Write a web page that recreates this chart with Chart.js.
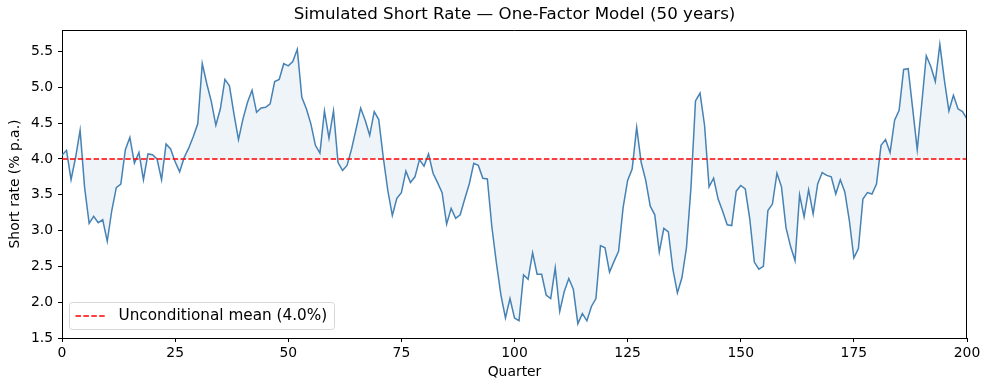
<!DOCTYPE html>
<html>
<head>
<meta charset="utf-8">
<title>Simulated Short Rate</title>
<script src="https://cdn.jsdelivr.net/npm/chart.js@4.4.1/dist/chart.umd.min.js"></script>
<style>
    html, body { margin: 0; padding: 0; background: #fff; }
    canvas { display: block; }
</style>
</head>
<body>
<canvas id="rateChart" width="990" height="390"></canvas>
<script>
// --- Data ---
const rates = [
    4.05, 4.12, 3.71, 4.02, 4.40, 3.60, 3.10, 3.20, 3.11, 3.15,
    2.85, 3.28, 3.60, 3.65, 4.13, 4.30, 3.94, 4.09, 3.71, 4.07,
    4.06, 4.00, 3.71, 4.21, 4.14, 3.96, 3.82, 4.02, 4.15, 4.31,
    4.49, 5.33, 5.05, 4.80, 4.47, 4.70, 5.11, 5.02, 4.63, 4.27,
    4.56, 4.79, 4.96, 4.65, 4.71, 4.72, 4.77, 5.08, 5.11, 5.33,
    5.30, 5.36, 5.53, 4.86, 4.70, 4.49, 4.19, 4.08, 4.67, 4.29,
    4.67, 3.95, 3.84, 3.91, 4.14, 4.42, 4.71, 4.54, 4.33, 4.66,
    4.55, 4.02, 3.56, 3.21, 3.45, 3.53, 3.83, 3.67, 3.75, 3.99,
    3.90, 4.07, 3.80, 3.67, 3.53, 3.09, 3.31, 3.17, 3.22, 3.44,
    3.65, 3.94, 3.91, 3.73, 3.72, 3.05, 2.55, 2.10, 1.78, 2.05,
    1.78, 1.74, 2.38, 2.32, 2.69, 2.39, 2.39, 2.10, 2.05, 2.48,
    1.87, 2.15, 2.33, 2.18, 1.70, 1.84, 1.74, 1.94, 2.05, 2.79,
    2.76, 2.42, 2.57, 2.71, 3.32, 3.70, 3.86, 4.44, 3.95, 3.70,
    3.34, 3.22, 2.70, 3.03, 2.98, 2.46, 2.13, 2.34, 2.76, 3.60,
    4.81, 4.92, 4.47, 3.61, 3.73, 3.44, 3.27, 3.08, 3.07, 3.55,
    3.63, 3.58, 3.16, 2.56, 2.46, 2.50, 3.28, 3.37, 3.80, 3.61,
    3.04, 2.78, 2.58, 3.50, 3.19, 3.57, 3.23, 3.65, 3.81, 3.77,
    3.75, 3.51, 3.71, 3.54, 3.14, 2.62, 2.75, 3.44, 3.53, 3.51,
    3.65, 4.19, 4.27, 4.09, 4.54, 4.68, 5.25, 5.26, 4.70, 4.13,
    4.77, 5.44, 5.29, 5.08, 5.60, 5.10, 4.67, 4.89, 4.70, 4.66,
    4.56
];
const quarters = rates.map((_, i) => i);
const meanRate = 4.0;
const xTicks = [0, 25, 50, 75, 100, 125, 150, 175, 200];
const yTicks = [1.5, 2.0, 2.5, 3.0, 3.5, 4.0, 4.5, 5.0, 5.5];
const legendLabel = 'Unconditional mean (4.0%)';

const FONT = 'DejaVu Sans';
const MEAN_DASH = [5.5, 2.4];

// center the title over the plot area instead of the whole canvas
const titleOverPlot = {
    id: 'titleOverPlot',
    afterLayout(chart) {
        const tb = chart.titleBlock;
        if (!tb) return;
        tb.left = chart.chartArea.left;
        tb.right = chart.chartArea.right;
        tb.width = tb.right - tb.left;
    }
};

// top + right spines (Chart.js only draws the axis borders)
const framePlugin = {
    id: 'frame',
    afterDatasetsDraw(chart) {
        const { ctx, chartArea: a } = chart;
        ctx.save();
        ctx.strokeStyle = '#000';
        ctx.lineWidth = 1;
        ctx.beginPath();
        ctx.moveTo(a.left, a.top + 0.5);
        ctx.lineTo(a.right - 0.5, a.top + 0.5);
        ctx.lineTo(a.right - 0.5, a.bottom);
        ctx.stroke();
        ctx.restore();
    }
};

// legend box inside the plot, lower left
const insideLegend = {
    id: 'insideLegend',
    afterDraw(chart) {
        const { ctx, chartArea: a } = chart;
        const x = a.left + 7.5, y = a.bottom - 35.5, w = 265, h = 27, r = 3;
        ctx.save();
        ctx.beginPath();
        ctx.roundRect(x, y, w, h, r);
        ctx.fillStyle = 'rgba(255,255,255,0.8)';
        ctx.fill();
        ctx.strokeStyle = '#d6d6d6';
        ctx.lineWidth = 1;
        ctx.stroke();

        const ly = y + h / 2;
        ctx.beginPath();
        ctx.setLineDash(MEAN_DASH);
        ctx.strokeStyle = 'red';
        ctx.lineWidth = 1.5;
        ctx.moveTo(x + 6, ly);
        ctx.lineTo(x + 36, ly);
        ctx.stroke();
        ctx.setLineDash([]);

        ctx.fillStyle = '#000';
        ctx.font = '15.28px "' + FONT + '"';
        ctx.textBaseline = 'middle';
        ctx.fillText(legendLabel, x + 49, ly + 0.5);
        ctx.restore();
    }
};

const ctx = document.getElementById('rateChart').getContext('2d');
new Chart(ctx, {
    type: 'line',
    data: {
        datasets: [
            {
                label: legendLabel,
                data: [{ x: xTicks[0], y: meanRate }, { x: xTicks[xTicks.length - 1], y: meanRate }],
                borderColor: 'red',
                borderWidth: 1.5,
                borderDash: MEAN_DASH,
                pointRadius: 0,
                fill: false
            },
            {
                label: 'Short rate',
                data: quarters.map((q, i) => ({ x: q, y: rates[i] })),
                borderColor: '#4682b4',
                borderWidth: 1.5,
                backgroundColor: 'rgba(70,130,180,0.09)',
                fill: { value: meanRate },
                pointRadius: 0,
                tension: 0
            }
        ]
    },
    options: {
        responsive: false,
        animation: false,
        devicePixelRatio: 1,
        layout: { padding: { left: 0, right: 23, top: 0, bottom: 0 } },
        plugins: {
            legend: { display: false },
            tooltip: { enabled: false },
            title: {
                display: true,
                text: 'Simulated Short Rate \u2014 One-Factor Model (50 years)',
                color: '#000',
                font: { family: FONT, size: 16.67, weight: 'normal' },
                padding: { top: 5, bottom: 5 }
            }
        },
        scales: {
            x: {
                type: 'linear',
                min: 0,
                max: 200,
                afterBuildTicks: s => { s.ticks = xTicks.map(v => ({ value: v })); },
                afterFit: s => { s.height = 52; },
                ticks: {
                    color: '#000',
                    font: { family: FONT, size: 13.9 },
                    padding: 3,
                    maxRotation: 0,
                    callback: v => String(v)
                },
                grid: { drawOnChartArea: false, drawTicks: true, tickLength: 4, tickColor: '#000' },
                border: { display: true, color: '#000', width: 1 },
                title: {
                    display: true,
                    text: 'Quarter',
                    color: '#000',
                    font: { family: FONT, size: 13.9 },
                    padding: { top: 0, bottom: 9 }
                }
            },
            y: {
                type: 'linear',
                min: 1.5,
                max: 5.8,
                afterBuildTicks: s => { s.ticks = yTicks.map(v => ({ value: v })); },
                afterFit: s => { s.width = 62; },
                ticks: {
                    color: '#000',
                    font: { family: FONT, size: 13.9 },
                    padding: 5,
                    callback: v => Number(v).toFixed(1)
                },
                grid: { drawOnChartArea: false, drawTicks: true, tickLength: 4, tickColor: '#000' },
                border: { display: true, color: '#000', width: 1 },
                title: {
                    display: true,
                    text: 'Short rate (% p.a.)',
                    color: '#000',
                    font: { family: FONT, size: 13.9 },
                    padding: { top: 7, bottom: 0 }
                }
            }
        }
    },
    plugins: [titleOverPlot, framePlugin, insideLegend]
});
</script>
</body>
</html>
